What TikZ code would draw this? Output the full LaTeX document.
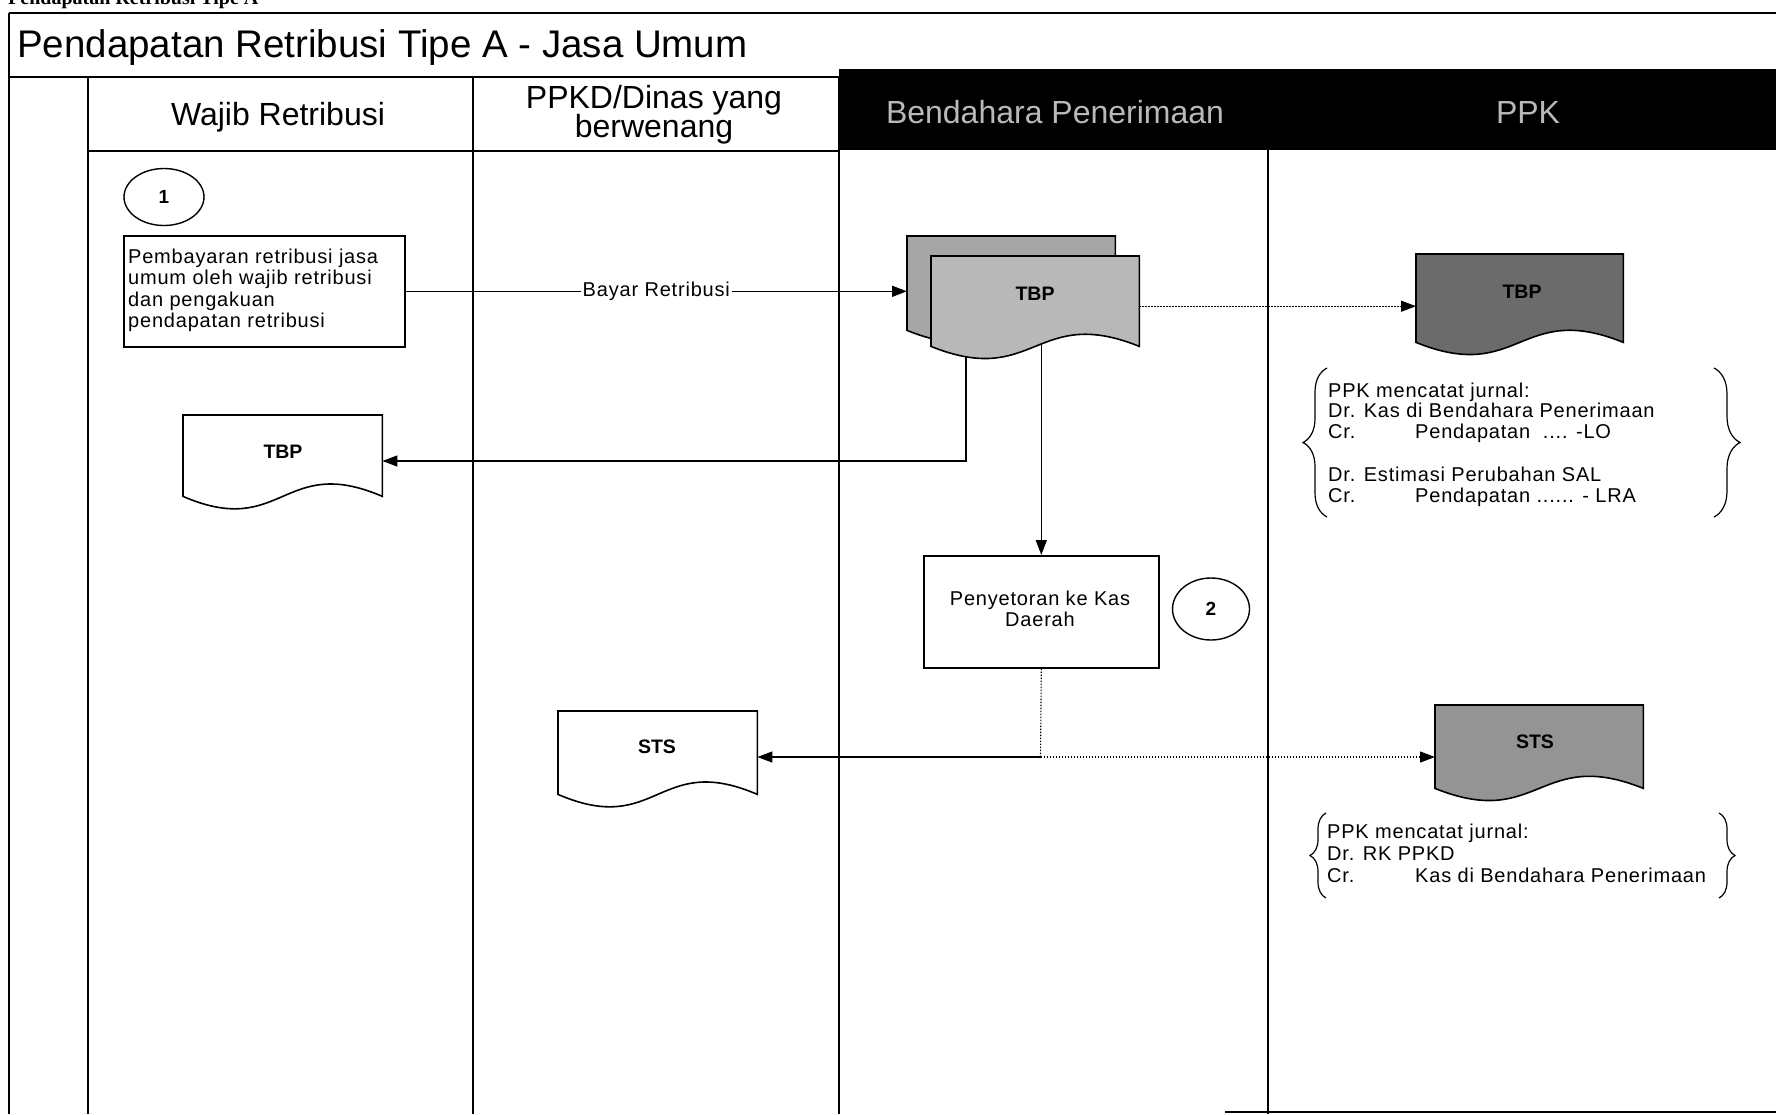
\documentclass[tikz,border=0pt]{standalone}
\usepackage{fontspec}
\setmainfont{Liberation Sans}
\newfontfamily\topserif{Liberation Serif}
\newfontfamily\spacedsans{Liberation Sans}[LetterSpace=4]
\usetikzlibrary{arrows.meta,calc,shapes.geometric,decorations.pathreplacing}
\newcommand{\drawdoc}[3]{\draw[docline, fill=#2] (#1.north west) -- (#1.north east) -- (#1.south east) .. controls ($(#1.south)+(0,-#3)$) and ($(#1.south)+(0,#3)$) .. (#1.south west) -- cycle;}
\begin{document}
\begin{tikzpicture}[x=1pt,y=-1pt,
  frame/.style={line width=1.5pt},
  hdr/.style={font=\fontsize{32}{36}\selectfont, inner sep=0pt, anchor=base},
  small/.style={font=\spacedsans\fontsize{20}{22}\selectfont, inner sep=0pt, anchor=base west},
  smallc/.style={font=\spacedsans\fontsize{20}{22}\selectfont, inner sep=0pt, anchor=base},
  doctxt/.style={font=\fontsize{19.5}{22}\selectfont\bfseries, inner sep=0pt, anchor=base},
  proc/.style={draw, line width=1.6pt, inner sep=0pt, anchor=north west},
  docbg/.style={draw=none, inner sep=0pt, anchor=north west},
  docline/.style={draw, line width=1.6pt},
  conn/.style={line width=1.4pt, -{Triangle[length=15pt,width=11pt]}},
  dline/.style={line width=1.1pt, dash pattern=on 1.5pt off 1.5pt},
  dconn/.style={line width=1.1pt, dash pattern=on 1.5pt off 1.5pt, -{Triangle[length=15pt,width=11pt]}},
  marker/.style={draw, ellipse, line width=1.4pt, inner sep=0pt, font=\fontsize{19}{22}\selectfont\bfseries},
  brc/.style={line width=1.2pt, decorate},
  lbl/.style={fill=white, inner sep=2pt, font=\spacedsans\fontsize{20}{22}\selectfont}
]
\useasboundingbox (0,0) rectangle (1776,1114);

% cut-off heading at the top
\node[anchor=base west, inner sep=0pt, font={\topserif\bfseries\fontsize{20}{22}\selectfont}] (toptitle) at (8,4) {Pendapatan Retribusi Tipe A};

% frame and swimlanes
\draw[frame] (9,13) -- (1776,13);
\draw[frame] (9,13) -- (9,1114);
\draw[frame] (9,77) -- (1776,77);
\draw[frame] (88,77) -- (88,1114);
\draw[frame] (473,77) -- (473,1114);
\draw[frame] (839,77) -- (839,1114);
\draw[frame] (1268,150) -- (1268,1114);
\draw[frame] (88,151) -- (839,151);
\draw[frame] (1225,1112) -- (1776,1112);
\fill[black] (839,69) rectangle (1776,150);

\node[anchor=base west, inner sep=0pt, font=\fontsize{38.5}{44}\selectfont] (title) at (17,57) {Pendapatan Retribusi Tipe A - Jasa Umum};

\node[hdr] (hW) at (278,125) {Wajib Retribusi};
\node[hdr] (hP1) at (654,108) {PPKD/Dinas yang};
\node[hdr] (hP2) at (654,137) {berwenang};
\node[hdr, text=gray!55] (hB) at (1055,123) {Bendahara Penerimaan};
\node[hdr, text=gray!55] (hK) at (1528,123) {PPK};

% markers
\node[marker, minimum width=80pt, minimum height=57pt] (m1) at (164,197) {1};
\node[marker, minimum width=77pt, minimum height=62pt] (m2) at (1211,609) {2};

% process boxes
\node[proc, minimum width=281pt, minimum height=111pt] (p1) at (123,235) {};
\node[small] (p1a) at (128,263) {Pembayaran retribusi jasa};
\node[small] (p1b) at (128,284.5) {umum oleh wajib retribusi};
\node[small] (p1c) at (128,306) {dan pengakuan};
\node[small] (p1d) at (128,327.5) {pendapatan retribusi};

\node[proc, minimum width=235pt, minimum height=112pt] (p2) at (923,555) {};
\node[smallc] (p2a) at (1040,605) {Penyetoran ke Kas};
\node[smallc] (p2b) at (1040,626) {Daerah};

% document placeholders
\node[docbg, minimum width=199pt, minimum height=81pt] (tbpW) at (183,415) {};
\node[docbg, minimum width=208pt, minimum height=94pt] (tbpB) at (907,236) {};
\node[docbg, minimum width=208pt, minimum height=90pt] (tbpF) at (931,256) {};
\node[docbg, minimum width=207pt, minimum height=88pt] (tbpP) at (1416,254) {};
\node[docbg, minimum width=199pt, minimum height=83pt] (stsW) at (558,711) {};
\node[docbg, minimum width=208pt, minimum height=83pt] (stsP) at (1435,705) {};

% connectors
\draw[conn] (p1.east) -- node[lbl] (lblBayar) {Bayar Retribusi} (p1.east -| tbpB.west);
\coordinate (c1) at (966,330);
\coordinate (c1b) at (966,461);
\draw[conn] (c1) -- (c1b) -- (c1b -| tbpW.east);
\draw[dconn] ($(tbpF.east)+(0,5)$) -- ($(tbpP.west)+(0,8)$);
\draw[conn] (p2.north |- tbpF.center) -- (p2.north);
\coordinate (jn) at (1040.5,757);
\draw[dline] (p2.south) -- (jn);
\draw[conn] (jn) -- (jn -| stsW.east);
\draw[dconn] (jn) -- (jn -| stsP.west);

% documents
\drawdoc{tbpW}{white}{43}
\drawdoc{tbpB}{black!35}{42}
\drawdoc{tbpF}{black!28}{42}
\drawdoc{tbpP}{black!58}{42}
\drawdoc{stsW}{white}{43}
\drawdoc{stsP}{black!42}{42}

\node[doctxt] (tTbpW) at (283,458) {TBP};
\node[doctxt] (tTbpF) at (1035,300) {TBP};
\node[doctxt] (tTbpP) at (1522,298) {TBP};
\node[doctxt] (tStsW) at (657,753) {STS};
\node[doctxt] (tStsP) at (1535,748) {STS};

% journal block 1
\draw[brc, decoration={brace, amplitude=24pt}] (1327,517) -- (1327,368);
\draw[brc, decoration={brace, amplitude=26pt}] (1714,368) -- (1714,517);
\node[small] (j1a) at (1328,397) {PPK mencatat jurnal:};
\node[small] (j1b) at (1328,417) {Dr. Kas di Bendahara Penerimaan};
\node[small] (j1c) at (1328,438) {Cr.};
\node[small] (j1d) at (1415,438) {Pendapatan\ \ .... -LO};
\node[small] (j1e) at (1328,481) {Dr. Estimasi Perubahan SAL};
\node[small] (j1f) at (1328,502) {Cr.};
\node[small] (j1g) at (1415,502) {Pendapatan ...... - LRA};

% journal block 2
\draw[brc, decoration={brace, amplitude=16pt}] (1326,898) -- (1326,813);
\draw[brc, decoration={brace, amplitude=16pt}] (1719,813) -- (1719,898);
\node[small] (j2a) at (1327,838) {PPK mencatat jurnal:};
\node[small] (j2b) at (1327,860) {Dr. RK PPKD};
\node[small] (j2c) at (1327,882) {Cr.};
\node[small] (j2d) at (1415,882) {Kas di Bendahara Penerimaan};
\end{tikzpicture}
\end{document}
